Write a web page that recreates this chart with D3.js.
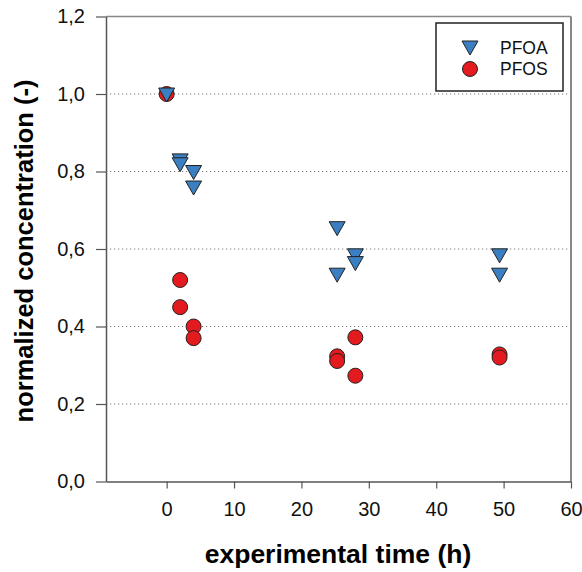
<!DOCTYPE html>
<html>
<head>
<meta charset="utf-8">
<script src="https://cdn.jsdelivr.net/npm/d3@7"></script>
<style>
  body { margin: 0; background: #fff; }
  text { font-family: Arial, "Liberation Sans", sans-serif; }
</style>
</head>
<body>
<div id="chart"></div>
<script>
// data
var pfoaTime = [0, 2, 2, 4, 4, 25.3, 25.3, 28, 28, 49.4, 49.4];
var pfoaConc = [1.0, 0.83, 0.82, 0.80, 0.76, 0.655, 0.535, 0.585, 0.565, 0.585, 0.535];
var pfosTime = [0, 2, 2, 4, 4, 25.3, 25.3, 28, 28, 49.4, 49.4];
var pfosConc = [1.0, 0.52, 0.45, 0.40, 0.37, 0.323, 0.311, 0.372, 0.273, 0.328, 0.32];
var xTicks = [0, 10, 20, 30, 40, 50, 60];
var yTicks = [0, 0.2, 0.4, 0.6, 0.8, 1.0, 1.2];
var gridValues = [0.2, 0.4, 0.6, 0.8, 1.0];
var legendNames = ["PFOA", "PFOS"];

const width = 582, height = 572;
const margin = { top: 16.5, right: 11, bottom: 90.5, left: 106 };
const innerW = width - margin.left - margin.right;
const innerH = height - margin.top - margin.bottom;

const svg = d3.select("#chart")
  .append("svg")
  .attr("width", width)
  .attr("height", height);

const g = svg.append("g")
  .attr("transform", "translate(" + margin.left + "," + margin.top + ")");

var x = d3.scaleLinear().domain([-9, 60]).range([0, innerW]);
var y = d3.scaleLinear().domain([0, 1.2]).range([innerH, 0]);

// dotted grid lines
g.append("g")
  .selectAll("line")
  .data(gridValues)
  .enter().append("line")
  .attr("x1", 0)
  .attr("x2", innerW)
  .attr("y1", d => y(d))
  .attr("y2", d => y(d))
  .attr("stroke", "#777")
  .attr("stroke-width", 1)
  .attr("stroke-dasharray", "1.2,2.8");

// top and right frame
g.append("line")
  .attr("x1", 0).attr("x2", innerW).attr("y1", 0).attr("y2", 0)
  .attr("stroke", "#888").attr("stroke-width", 1.5);
g.append("line")
  .attr("x1", innerW).attr("x2", innerW).attr("y1", 0).attr("y2", innerH)
  .attr("stroke", "#888").attr("stroke-width", 2);

// x axis
var xAxis = g.append("g")
  .attr("transform", "translate(0," + innerH + ")")
  .call(d3.axisBottom(x).tickValues(xTicks).tickSize(7).tickSizeOuter(0).tickPadding(13));
xAxis.select(".domain").attr("stroke", "#555").attr("stroke-width", 1.5);
xAxis.selectAll(".tick line").attr("stroke", "#555").attr("stroke-width", 1.2);
xAxis.selectAll("text").attr("font-size", "20px").attr("fill", "#111");

// y axis
var fmt = d => d3.format(".1f")(d).replace(".", ",");
var yAxis = g.append("g")
  .call(d3.axisLeft(y).tickValues(yTicks).tickFormat(fmt).tickSize(10).tickSizeOuter(0).tickPadding(11));
yAxis.select(".domain").attr("stroke", "#555").attr("stroke-width", 1.5);
yAxis.selectAll(".tick line").attr("stroke", "#555").attr("stroke-width", 1.2);
yAxis.selectAll("text").attr("font-size", "20px").attr("fill", "#111");

// axis titles
svg.append("text")
  .attr("x", 338)
  .attr("y", 563)
  .attr("text-anchor", "middle")
  .attr("font-size", "26.5px")
  .attr("font-weight", "bold")
  .text("experimental time (h)");

svg.append("text")
  .attr("transform", "translate(33," + 251 + ") rotate(-90)")
  .attr("text-anchor", "middle")
  .attr("font-size", "25.5px")
  .attr("font-weight", "bold")
  .text("normalized concentration (-)");

// markers
var triPath = "M-8,-6L8,-6L0,8Z";
var blue = "#3a7fc2", red = "#e31b1f";

var pfos = pfosTime.map((t, i) => ({ t: t, c: pfosConc[i] }));
var pfoa = pfoaTime.map((t, i) => ({ t: t, c: pfoaConc[i] }));

g.append("g")
  .selectAll("circle")
  .data(pfos)
  .enter().append("circle")
  .attr("cx", d => x(d.t))
  .attr("cy", d => y(d.c))
  .attr("r", 7.5)
  .attr("fill", red)
  .attr("stroke", "#222")
  .attr("stroke-width", 1);

g.append("g")
  .selectAll("path")
  .data(pfoa)
  .enter().append("path")
  .attr("d", triPath)
  .attr("transform", d => "translate(" + x(d.t) + "," + y(d.c) + ")")
  .attr("fill", blue)
  .attr("stroke", "#222")
  .attr("stroke-width", 1);

// legend
var legend = svg.append("g").attr("transform", "translate(436,23)");
legend.append("rect")
  .attr("width", 127)
  .attr("height", 68)
  .attr("fill", "#fff")
  .attr("stroke", "#222")
  .attr("stroke-width", 1.5);

legend.append("path")
  .attr("d", triPath)
  .attr("transform", "translate(34,24)")
  .attr("fill", blue)
  .attr("stroke", "#222");
legend.append("circle")
  .attr("cx", 34).attr("cy", 46).attr("r", 7.5)
  .attr("fill", red)
  .attr("stroke", "#222");

legend.selectAll(".lbl")
  .data(legendNames)
  .enter().append("text")
  .attr("class", "lbl")
  .attr("x", 64)
  .attr("y", (d, i) => 31 + i * 21)
  .attr("font-size", "17.5px")
  .attr("fill", "#111")
  .text(d => d);
</script>
</body>
</html>
